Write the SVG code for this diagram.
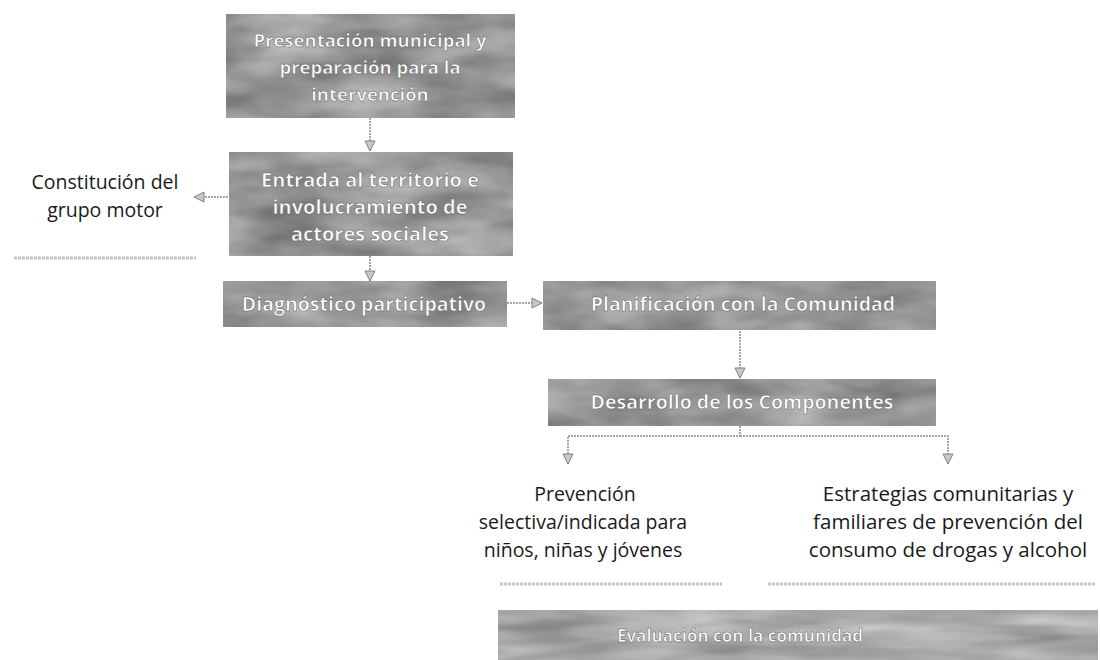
<svg xmlns="http://www.w3.org/2000/svg" width="1100" height="660" viewBox="0 0 1100 660">
<defs>
<filter id="tex" x="0" y="0" width="1" height="1" color-interpolation-filters="sRGB">
<feTurbulence type="fractalNoise" baseFrequency="0.012 0.035" numOctaves="3" seed="4" result="n"/>
<feColorMatrix in="n" type="matrix" values="0.4 0 0 0 0.39  0.4 0 0 0 0.39  0.4 0 0 0 0.39  0 0 0 0 1" result="g"/>
<feComposite in="g" in2="SourceGraphic" operator="in"/>
</filter>
<filter id="tex2" x="0" y="0" width="1" height="1" color-interpolation-filters="sRGB">
<feTurbulence type="fractalNoise" baseFrequency="0.008 0.05" numOctaves="3" seed="9" result="n"/>
<feColorMatrix in="n" type="matrix" values="0.4 0 0 0 0.47  0.4 0 0 0 0.47  0.4 0 0 0 0.47  0 0 0 0 1" result="g"/>
<feComposite in="g" in2="SourceGraphic" operator="in"/>
</filter>
<marker id="ah" viewBox="0 0 12 12" refX="11" refY="6" markerWidth="12" markerHeight="12" markerUnits="userSpaceOnUse" orient="auto">
<path d="M1,1 L11,6 L1,11 Z" fill="#c8c8c8" stroke="#808080" stroke-width="1"/>
</marker>
</defs>
<style>
.box{fill:#909090;filter:url(#tex)}
.bt{font-family:"Open Sans","Liberation Sans",sans-serif;font-weight:bold;font-size:19.5px;fill:#ffffff;stroke:#5a5a5a;stroke-width:0.5;text-anchor:middle}
.lt{font-family:"Open Sans","Liberation Sans",sans-serif;font-size:19.5px;fill:#1a1a1a;text-anchor:middle}
.c{fill:none;stroke:#8a8a8a;stroke-width:1.5;stroke-dasharray:2 1}
.ul{stroke:#c4c4c4;stroke-width:3;stroke-dasharray:3 1}
</style>
<g id="connectors">
<line class="c" x1="370" y1="118" x2="370" y2="151" marker-end="url(#ah)"/>
<line class="c" x1="228" y1="197" x2="194" y2="197" marker-end="url(#ah)"/>
<line class="c" x1="370" y1="256" x2="370" y2="281" marker-end="url(#ah)"/>
<line class="c" x1="507" y1="303" x2="542" y2="303" marker-end="url(#ah)"/>
<line class="c" x1="740" y1="331" x2="740" y2="378" marker-end="url(#ah)"/>
<polyline class="c" points="740,426 740,436 568,436 568,464" marker-end="url(#ah)"/>
<polyline class="c" points="740,436 948,436 948,464" marker-end="url(#ah)"/>
</g>
<g id="n1">
<rect class="box" x="226" y="14" width="289" height="104"/>
<text class="bt" x="370" y="47" style="font-size:18.5px">Presentación municipal y</text>
<text class="bt" x="370" y="74" style="font-size:18.5px">preparación para la</text>
<text class="bt" x="370" y="101" style="font-size:18.5px">intervención</text>
</g>
<g id="n2">
<rect class="box" x="229" y="152" width="284" height="104"/>
<text class="bt" x="370" y="187" style="font-size:20px">Entrada al territorio e</text>
<text class="bt" x="370" y="214" style="font-size:20px">involucramiento de</text>
<text class="bt" x="370" y="241" style="font-size:20px">actores sociales</text>
</g>
<g id="n2b">
<text class="lt" x="105" y="189">Constitución del</text>
<text class="lt" x="105" y="217">grupo motor</text>
<line class="ul" x1="14" y1="258" x2="196" y2="258"/>
</g>
<g id="n3">
<rect class="box" x="223" y="281" width="284" height="46"/>
<text class="bt" x="364" y="311">Diagnóstico participativo</text>
</g>
<g id="n4">
<rect class="box" x="543" y="281" width="393" height="49"/>
<text class="bt" x="743" y="311">Planificación con la Comunidad</text>
</g>
<g id="n5">
<rect class="box" x="548" y="379" width="388" height="47"/>
<text class="bt" x="742" y="409">Desarrollo de los Componentes</text>
</g>
<g id="n6">
<text class="lt" x="585" y="501">Prevención</text>
<text class="lt" x="583" y="529">selectiva/indicada para</text>
<text class="lt" x="583" y="557">niños, niñas y jóvenes</text>
<line class="ul" x1="500" y1="584" x2="722" y2="584"/>
</g>
<g id="n7">
<text class="lt" x="948" y="501" style="font-size:20.5px">Estrategias comunitarias y</text>
<text class="lt" x="948" y="529" style="font-size:20.5px">familiares de prevención del</text>
<text class="lt" x="948" y="557" style="font-size:20.5px">consumo de drogas y alcohol</text>
<line class="ul" x1="768" y1="584" x2="1096" y2="584"/>
</g>
<g id="n8">
<rect x="498" y="610" width="600" height="50" fill="#a0a0a0" filter="url(#tex2)"/>
<text class="bt" x="740" y="642" style="font-size:17px">Evaluación con la comunidad</text>
</g>
</svg>
